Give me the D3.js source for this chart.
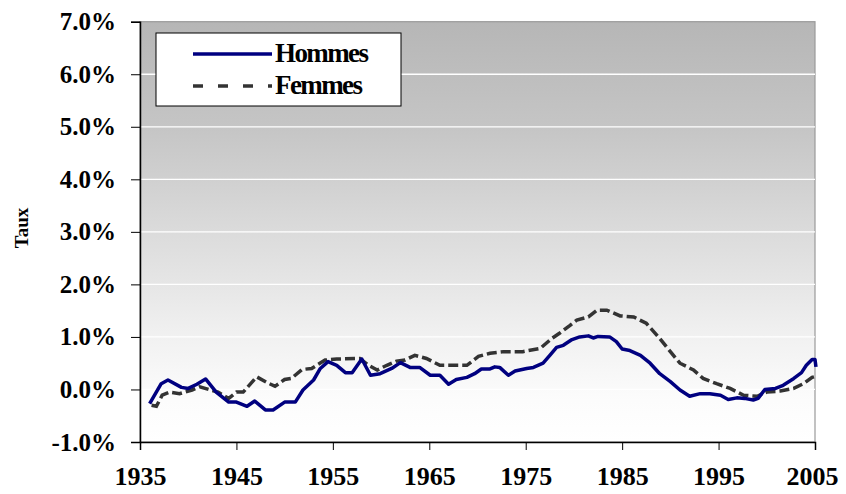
<!DOCTYPE html>
<html lang="fr">
<head>
<meta charset="UTF-8">
<title>Taux - Hommes / Femmes</title>
<style>
    html, body { margin: 0; padding: 0; background: #fff; }
    svg { display: block; }
    text { font-family: "Times New Roman", "Liberation Serif", serif; font-weight: bold; fill: #000; }
</style>
</head>
<body>
<svg width="846" height="494"></svg>
<script src="https://d3js.org/d3.v7.min.js"></script>
<script>
// values (%)
const hommesYears = [1936.0, 1937.2, 1937.9, 1939.3, 1940.0, 1940.9, 1941.8, 1942.9, 1944.2, 1945.0, 1946.1, 1946.9, 1948.0, 1948.8, 1950.0, 1951.1, 1951.9, 1953.0, 1953.7, 1954.5, 1955.4, 1956.3, 1957.0, 1958.0, 1958.9, 1959.9, 1961.1, 1962.0, 1963.0, 1964.0, 1965.1, 1966.1, 1967.0, 1967.8, 1968.9, 1969.7, 1970.4, 1971.3, 1971.8, 1972.3, 1973.2, 1973.9, 1975.1, 1975.8, 1976.8, 1977.5, 1978.2, 1978.9, 1979.8, 1980.6, 1981.5, 1982.0, 1982.5, 1983.7, 1984.4, 1985.0, 1985.8, 1986.9, 1987.9, 1988.9, 1990.0, 1991.0, 1992.0, 1993.1, 1994.1, 1995.2, 1996.0, 1996.9, 1997.7, 1998.6, 1999.1, 1999.8, 2000.9, 2001.7, 2002.8, 2003.6, 2004.1, 2004.7, 2005.0, 2005.1];
const hommesValues = [-0.27, 0.11, 0.18, 0.04, 0.02, 0.10, 0.20, -0.05, -0.24, -0.24, -0.32, -0.22, -0.39, -0.39, -0.24, -0.24, -0.01, 0.18, 0.40, 0.53, 0.46, 0.32, 0.32, 0.58, 0.27, 0.30, 0.40, 0.51, 0.42, 0.42, 0.27, 0.27, 0.10, 0.19, 0.23, 0.30, 0.39, 0.39, 0.43, 0.42, 0.27, 0.35, 0.40, 0.42, 0.50, 0.65, 0.80, 0.84, 0.95, 1.00, 1.02, 0.98, 1.01, 1.00, 0.91, 0.77, 0.74, 0.65, 0.50, 0.30, 0.15, -0.01, -0.13, -0.08, -0.08, -0.11, -0.19, -0.16, -0.17, -0.20, -0.17, 0.00, 0.02, 0.08, 0.21, 0.32, 0.46, 0.57, 0.57, 0.43];

const femmesYears = [1936.2, 1936.7, 1937.3, 1938.1, 1939.1, 1940.4, 1941.2, 1942.3, 1943.1, 1944.2, 1945.0, 1945.7, 1947.1, 1948.1, 1949.0, 1950.0, 1950.7, 1951.8, 1952.8, 1954.2, 1955.4, 1957.8, 1958.7, 1959.6, 1960.6, 1961.6, 1962.5, 1963.5, 1964.7, 1966.1, 1968.9, 1970.1, 1971.3, 1972.7, 1974.7, 1976.5, 1977.7, 1978.5, 1979.6, 1980.3, 1981.5, 1982.4, 1983.4, 1984.8, 1986.2, 1987.5, 1988.9, 1990.0, 1991.0, 1992.4, 1993.4, 1994.8, 1996.2, 1997.6, 1999.0, 2000.0, 2001.4, 2002.8, 2003.8, 2004.7, 2005.1];
const femmesValues = [-0.30, -0.32, -0.11, -0.05, -0.08, -0.01, 0.05, -0.01, -0.05, -0.17, -0.05, -0.05, 0.24, 0.14, 0.06, 0.19, 0.21, 0.38, 0.40, 0.56, 0.58, 0.59, 0.46, 0.37, 0.46, 0.54, 0.56, 0.65, 0.59, 0.46, 0.46, 0.63, 0.69, 0.72, 0.72, 0.78, 0.97, 1.07, 1.22, 1.32, 1.38, 1.51, 1.51, 1.40, 1.38, 1.26, 0.97, 0.72, 0.50, 0.37, 0.21, 0.11, 0.02, -0.11, -0.13, -0.05, -0.03, 0.02, 0.11, 0.23, 0.25];

const yTicks = [-1, 0, 1, 2, 3, 4, 5, 6, 7];
const xTicks = [1935, 1945, 1955, 1965, 1975, 1985, 1995, 2005];
const seriesNames = ["Hommes", "Femmes"];

const svg = d3.select("svg");
const plotLeft = 140, plotRight = 815, plotTop = 21.7, plotBottom = 442;

const x = d3.scaleLinear().domain([1935, 2005]).range([plotLeft, plotRight]);
const y = d3.scaleLinear().domain([-1, 7]).range([plotBottom, plotTop]);

// background gradient
const grad = svg.append("defs").append("linearGradient")
    .attr("id", "bg").attr("x1", 0).attr("y1", 0).attr("x2", 0).attr("y2", 1);
[["0%", "#b6b6b6"], ["25%", "#c5c5c5"], ["50%", "#dbdbdb"], ["75%", "#f1f1f1"], ["90%", "#fcfcfc"], ["100%", "#ffffff"]]
    .forEach(s => grad.append("stop").attr("offset", s[0]).attr("stop-color", s[1]));

svg.append("rect")
    .attr("x", plotLeft).attr("y", plotTop)
    .attr("width", plotRight - plotLeft).attr("height", plotBottom - plotTop)
    .attr("fill", "url(#bg)")
    .attr("stroke", "#9a9a9a").attr("stroke-width", 1.2);

// gridlines
svg.append("g").selectAll("line")
    .data(yTicks.filter(d => d > -1 && d < 7))
    .enter().append("line")
    .attr("x1", plotLeft).attr("x2", plotRight)
    .attr("y1", d => y(d)).attr("y2", d => y(d))
    .attr("stroke", "#fff").attr("stroke-width", 1.3);

// y axis
const yAxis = svg.append("g")
    .attr("transform", `translate(${plotLeft},0)`)
    .call(d3.axisLeft(y).tickValues(yTicks).tickSize(9).tickPadding(15)
        .tickFormat(d => d.toFixed(1) + "%"));
yAxis.select(".domain").attr("stroke", "#000").attr("stroke-width", 1.5);
yAxis.selectAll(".tick line").attr("stroke", "#000");
yAxis.selectAll("text")
    .style("font-family", "'Times New Roman', 'Liberation Serif', serif")
    .style("font-weight", "bold")
    .style("font-size", "25px")
    .attr("fill", "#000");

// x axis
const xAxis = svg.append("g")
    .attr("transform", `translate(0,${plotBottom})`)
    .call(d3.axisBottom(x).tickValues(xTicks).tickSize(8).tickPadding(17)
        .tickFormat(d3.format("d")));
xAxis.select(".domain").attr("stroke", "#000").attr("stroke-width", 1.5);
xAxis.selectAll(".tick line").attr("stroke", "#000");
xAxis.selectAll("text")
    .style("font-family", "'Times New Roman', 'Liberation Serif', serif")
    .style("font-weight", "bold")
    .style("font-size", "26px")
    .attr("fill", "#000")
    .attr("dx", d => d === 2005 ? -3 : 0);

// axis title
svg.append("text")
    .attr("transform", "translate(28,228) rotate(-90)")
    .attr("text-anchor", "middle")
    .style("font-size", "19px")
    .text("Taux");

// lines
const line = d3.line().x(d => x(d[0])).y(d => y(d[1]));

svg.append("path")
    .datum(d3.zip(femmesYears, femmesValues))
    .attr("d", line)
    .attr("fill", "none")
    .attr("stroke", "#333333")
    .attr("stroke-width", 3.5)
    .attr("stroke-dasharray", "10,4");

svg.append("path")
    .datum(d3.zip(hommesYears, hommesValues))
    .attr("d", line)
    .attr("fill", "none")
    .attr("stroke", "#000080")
    .attr("stroke-width", 3.5)
    .attr("stroke-linejoin", "round");

// legend
const legend = svg.append("g");
legend.append("rect")
    .attr("x", 156).attr("y", 33).attr("width", 245).attr("height", 73)
    .attr("fill", "#fff").attr("stroke", "#000").attr("stroke-width", 1);

const legendStyles = [
    { color: "#000080", dash: null },
    { color: "#333333", dash: "10,15" }
];
seriesNames.forEach((name, i) => {
    const ly = 54 + i * 32;
    legend.append("line")
        .attr("x1", 193).attr("x2", 272)
        .attr("y1", ly).attr("y2", ly)
        .attr("stroke", legendStyles[i].color)
        .attr("stroke-width", 3.5)
        .attr("stroke-dasharray", legendStyles[i].dash);
    legend.append("text")
        .attr("x", 275).attr("y", ly + 8)
        .style("font-size", "27px")
        .style("letter-spacing", "-1.6px")
        .text(name);
});
</script>
</body>
</html>
